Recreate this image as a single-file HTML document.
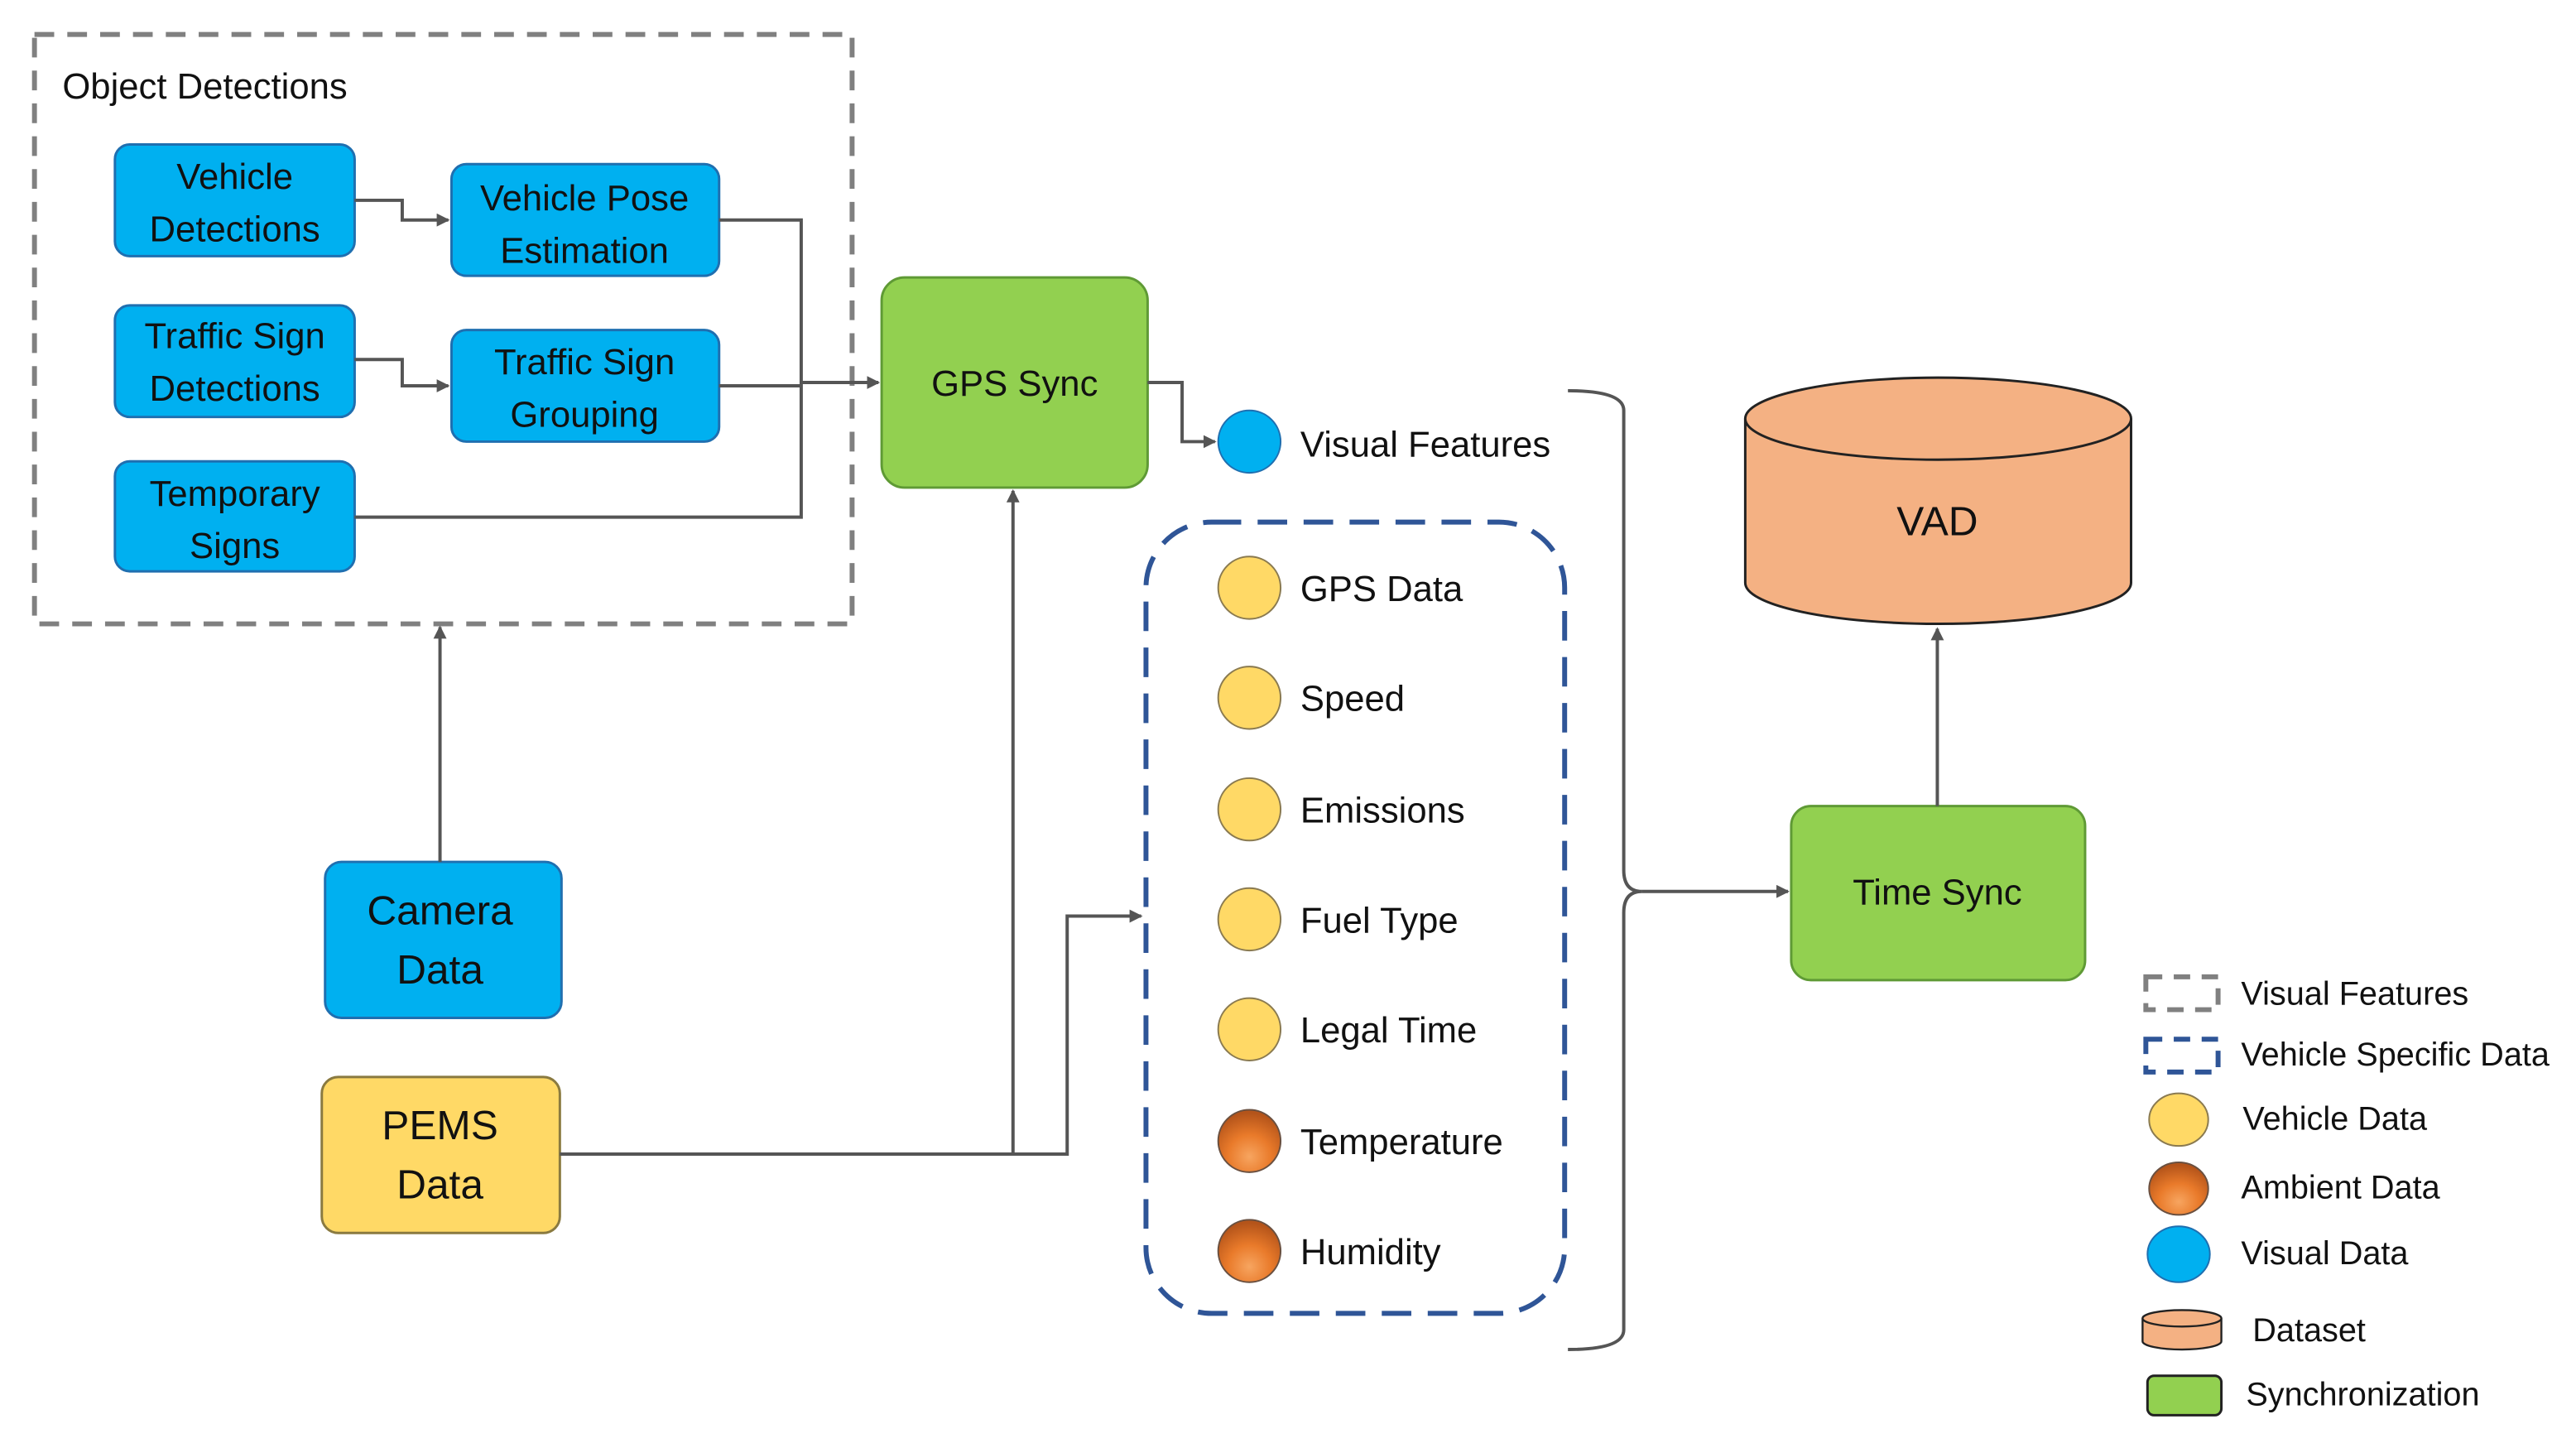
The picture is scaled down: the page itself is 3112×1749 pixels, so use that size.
<!DOCTYPE html>
<html><head><meta charset="utf-8"><style>
html,body{margin:0;padding:0;background:#fff}
svg{display:block}
text{font-family:"Liberation Sans",sans-serif;fill:#111}
</style></head><body>
<svg width="3112" height="1749" viewBox="0 0 1569 882" preserveAspectRatio="none" xmlns="http://www.w3.org/2000/svg">
<defs>
<marker id="a" markerWidth="8" markerHeight="8" refX="7" refY="4" orient="auto" markerUnits="userSpaceOnUse"><path d="M0,0 L8,4 L0,8 z" fill="#555"/></marker>
<radialGradient id="org" cx="0.5" cy="0.75" r="0.7"><stop offset="0" stop-color="#f7a560"/><stop offset="0.5" stop-color="#e97a2a"/><stop offset="1" stop-color="#b4541a"/></radialGradient>
</defs>
<rect x="21" y="21" width="498" height="359" fill="none" stroke="#808080" stroke-width="3" stroke-dasharray="12,8"/>
<text x="38" y="60" font-size="22">Object Detections</text>
<g fill="#00B0F0" stroke="#1F6FB0" stroke-width="1.5">
<rect x="70" y="88" width="146" height="68" rx="9"/>
<rect x="275" y="100" width="163" height="68" rx="9"/>
<rect x="70" y="186" width="146" height="68" rx="9"/>
<rect x="275" y="201" width="163" height="68" rx="9"/>
<rect x="70" y="281" width="146" height="67" rx="9"/>
<rect x="198" y="525" width="144" height="95" rx="10"/>
</g>
<rect x="196" y="656" width="145" height="95" rx="10" fill="#FFD966" stroke="#8a7a40" stroke-width="1.5"/>
<g fill="#92D050" stroke="#5f9a35" stroke-width="1.5">
<rect x="537" y="169" width="162" height="128" rx="14"/>
<rect x="1091" y="491" width="179" height="106" rx="12"/>
</g>
<g font-size="22" text-anchor="middle">
<text x="143" y="115">Vehicle</text><text x="143" y="147">Detections</text>
<text x="356" y="128">Vehicle Pose</text><text x="356" y="160">Estimation</text>
<text x="143" y="212">Traffic Sign</text><text x="143" y="244">Detections</text>
<text x="356" y="228">Traffic Sign</text><text x="356" y="260">Grouping</text>
<text x="143" y="308">Temporary</text><text x="143" y="340">Signs</text>
<text x="618" y="241">GPS Sync</text>
<text x="1180" y="551">Time Sync</text>
</g>
<g font-size="25" text-anchor="middle">
<text x="268" y="563">Camera</text><text x="268" y="599">Data</text>
<text x="268" y="694">PEMS</text><text x="268" y="730">Data</text>
</g>
<g fill="none" stroke="#555" stroke-width="2">
<path d="M216,122 H245 V134 H273" marker-end="url(#a)"/>
<path d="M216,219 H245 V235 H273" marker-end="url(#a)"/>
<path d="M438,134 H488 V315 H216"/>
<path d="M438,235 H488"/>
<path d="M488,233 H535" marker-end="url(#a)"/>
<path d="M699,233 H720 V269 H740" marker-end="url(#a)"/>
<path d="M268,525 V382" marker-end="url(#a)"/>
<path d="M341,703 H650 V558 H695" marker-end="url(#a)"/>
<path d="M617,703 V299" marker-end="url(#a)"/>
<path d="M1180,491 V383" marker-end="url(#a)"/>
<path d="M955,238 Q989,238 989,250 V530 Q989,543 1000,543 Q989,543 989,556 V810 Q989,822 955,822"/>
<path d="M1000,543 H1089" marker-end="url(#a)"/>
</g>
<path d="M1063,255 V355 A117.5,25 0 0 0 1298,355 V255" fill="#F4B183" stroke="#222" stroke-width="1.5"/>
<ellipse cx="1180.5" cy="255" rx="117.5" ry="25" fill="#F4B183" stroke="#222" stroke-width="1.5"/>
<text x="1180" y="326" font-size="25" text-anchor="middle">VAD</text>
<rect x="698" y="318" width="255" height="482" rx="40" fill="none" stroke="#2F5597" stroke-width="3" stroke-dasharray="18,10"/>
<circle cx="761" cy="269" r="19" fill="#00B0F0" stroke="#1F6FB0" stroke-width="1"/>
<g fill="#FFD966" stroke="#8a7a50" stroke-width="1">
<circle cx="761" cy="358" r="19"/><circle cx="761" cy="425" r="19"/><circle cx="761" cy="493" r="19"/>
<circle cx="761" cy="560" r="19"/><circle cx="761" cy="627" r="19"/>
</g>
<circle cx="761" cy="695" r="19" fill="url(#org)" stroke="#6a5040" stroke-width="1"/>
<circle cx="761" cy="762" r="19" fill="url(#org)" stroke="#6a5040" stroke-width="1"/>
<g font-size="22">
<text x="792" y="278">Visual Features</text>
<text x="792" y="366">GPS Data</text>
<text x="792" y="433">Speed</text>
<text x="792" y="501">Emissions</text>
<text x="792" y="568">Fuel Type</text>
<text x="792" y="635">Legal Time</text>
<text x="792" y="703">Temperature</text>
<text x="792" y="770">Humidity</text>
</g>
<rect x="1307" y="595" width="44" height="20" fill="none" stroke="#808080" stroke-width="3" stroke-dasharray="10,7"/>
<rect x="1307" y="633" width="44" height="20" fill="none" stroke="#2F5597" stroke-width="3" stroke-dasharray="10,7"/>
<ellipse cx="1327" cy="682" rx="18" ry="16" fill="#FFD966" stroke="#8a7a50" stroke-width="1"/>
<ellipse cx="1327" cy="724" rx="18" ry="16" fill="url(#org)" stroke="#6a5040" stroke-width="1"/>
<ellipse cx="1327" cy="764" rx="19" ry="17" fill="#00B0F0" stroke="#1F6FB0" stroke-width="1"/>
<path d="M1305,803 V817 A24,5 0 0 0 1353,817 V803" fill="#F4B183" stroke="#222" stroke-width="1.2"/>
<ellipse cx="1329" cy="803" rx="24" ry="5" fill="#F4B183" stroke="#222" stroke-width="1.2"/>
<rect x="1308" y="838" width="45" height="24" rx="4" fill="#92D050" stroke="#222" stroke-width="1.5"/>
<g font-size="20">
<text x="1365" y="612">Visual Features</text>
<text x="1365" y="649">Vehicle Specific Data</text>
<text x="1366" y="688">Vehicle Data</text>
<text x="1365" y="730">Ambient Data</text>
<text x="1365" y="770">Visual Data</text>
<text x="1372" y="817">Dataset</text>
<text x="1368" y="856">Synchronization</text>
</g>
</svg>
</body></html>
